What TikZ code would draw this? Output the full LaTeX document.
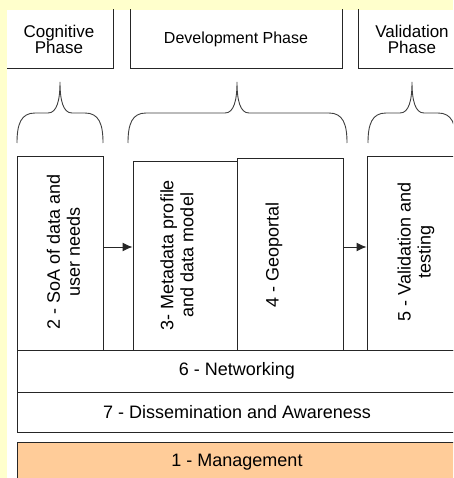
\documentclass[tikz,border=0pt]{standalone}
\usepackage{fontspec}
\setmainfont{Liberation Sans}
\usetikzlibrary{arrows.meta}
\definecolor{page-yellow}{HTML}{FFFFCC}
\definecolor{mgmt-orange}{HTML}{FFCC99}
\colorlet{frame}{black!85}
\tikzset{
  phase-box/.style={draw=frame, line width=1pt, align=center, inner sep=0pt, font=\fontsize{17}{16}\selectfont},
  task-box/.style={draw=frame, line width=1pt, fill=white, inner sep=0pt},
  task-label/.style={rotate=90, align=center, inner sep=0pt, font=\fontsize{18}{20}\selectfont},
  row-box/.style={draw=frame, line width=1pt, inner sep=0pt, font=\fontsize{18}{20}\selectfont},
  bracket-path/.style={draw=black!75, line width=0.9pt},
  flow-path/.style={draw=frame, line width=1pt, -{Latex[length=10pt,width=9pt]}},
}
\newcommand{\phasebrace}[3]{%
  \draw[bracket-path] (#1,143) .. controls (#1,124) and (#1+4,113) .. (#1+18,113)
    -- (#2-12,113) .. controls (#2-3,113) and (#2,100) .. (#2,82)
    .. controls (#2,100) and (#2+3,113) .. (#2+12,113)
    -- (#3-18,113) .. controls (#3-4,113) and (#3,124) .. (#3,143);}

\begin{document}
\begin{tikzpicture}[x=1pt, y=-1pt]
\useasboundingbox (0,0) rectangle (453,478);
\fill[page-yellow] (0,0) rectangle (453,478);
\fill[white] (7,10) rectangle (453,478);
\begin{scope}
\clip (7,10) rectangle (453,478);
\node[phase-box, minimum width=108pt, minimum height=60pt] at (59,39) (cognitive) {Cognitive\\Phase};
\node[phase-box, minimum width=212pt, minimum height=60pt, font=\fontsize{16}{16}\selectfont] at (236,39) (development) {Development Phase};
\node[phase-box, minimum width=108pt, minimum height=60pt] at (412,39) (validation) {Validation\\Phase};
\phasebrace{17}{60}{103}
\phasebrace{128}{237}{347}
\phasebrace{368}{412}{456}
\node[task-box, minimum width=86pt, minimum height=193pt] at (60,253.5) (soa) {};
\node[task-box, minimum width=104pt, minimum height=188pt] at (185,256) (metadata) {};
\node[task-box, minimum width=106pt, minimum height=191pt] at (290,254.5) (geoportal) {};
\node[task-box, minimum width=99pt, minimum height=193pt] at (416.5,253.5) (testing) {};
\node[task-label] at (63.5,252) (soa text) {2 - SoA of data and\\user needs};
\node[task-label] at (177,255) (metadata text) {3- Metadata profile\\and data model};
\node[task-label] at (274,255) (geoportal text) {4 - Geoportal};
\node[task-label] at (416,252) (testing text) {5 - Validation and\\testing};
\draw[flow-path] ([yshift=6.5pt]soa.east) -- ([yshift=6.5pt]soa.east -| metadata.west);
\draw[flow-path] ([yshift=7.5pt]geoportal.east) -- ([yshift=7.5pt]geoportal.east -| testing.west);
\node[row-box, minimum width=440pt, minimum height=42pt] at (237,371) (networking) {6 - Networking};
\node[row-box, minimum width=440pt, minimum height=40pt] at (237,412) (dissemination) {7 - Dissemination and Awareness};
\node[row-box, fill=mgmt-orange, minimum width=440pt, minimum height=40pt] at (237,462) (management) {1 - Management};
\end{scope}
\end{tikzpicture}
\end{document}
